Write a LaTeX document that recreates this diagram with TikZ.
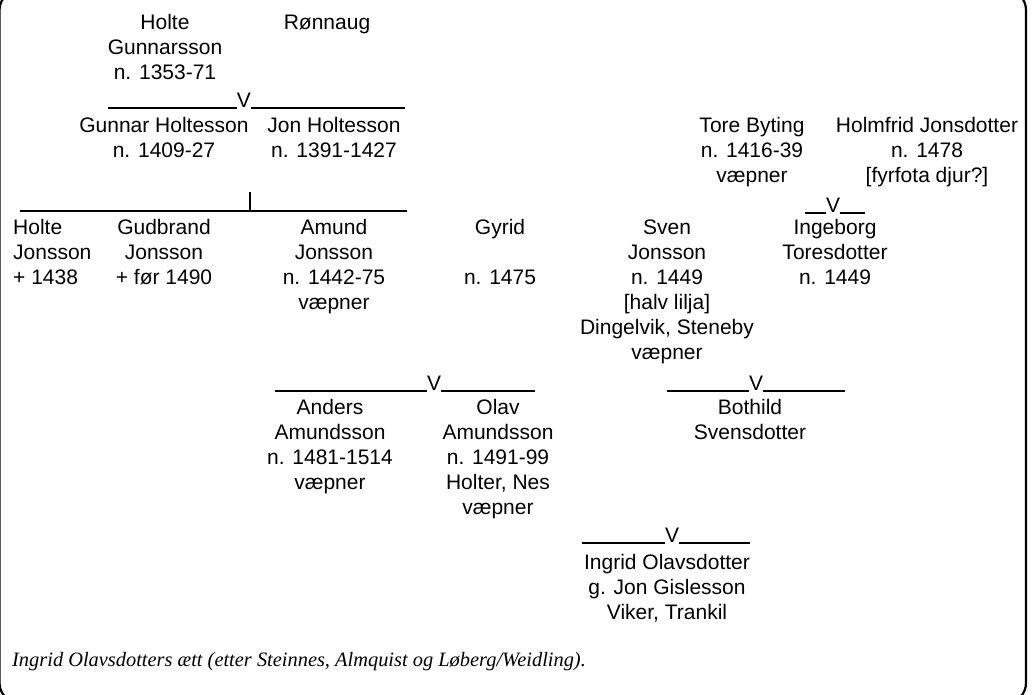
\documentclass[tikz,border=0pt]{standalone}
\usepackage{fontspec}
\setmainfont{Liberation Sans}
\newfontfamily\capfont{Liberation Serif}
\usepackage{tikz}
\usetikzlibrary{positioning}

\begin{document}
\begin{tikzpicture}[x=1pt,y=-1pt,
    person/.style={anchor=north, align=center, inner sep=0pt, font=\fontsize{21}{25}\selectfont},
    vmark/.style={anchor=south, inner sep=0pt, font=\fontsize{21}{25}\selectfont},
    tie/.style={line width=1.1pt}]
    \useasboundingbox (0,0) rectangle (1036,694);
    \draw[line width=2.2pt, rounded corners=20pt] (-0.5,-10) rectangle (1026,703);

    \node[person] (holteg) at (165,14.5) {Holte\\Gunnarsson\\n. 1353-71};
    \node[person] (ronnaug) at (327,14.5) {Rønnaug};
    \coordinate (a1) at (108,108);
    \coordinate (a2) at (405,108);
    \node[vmark] (v1) at (244,108) {V};
    \draw[tie] (a1) -- (v1.south west) (v1.south east) -- (a2);
    \node[person] (gunnar) at (164,117.5) {Gunnar Holtesson\\n. 1409-27};
    \node[person] (jon) at (334,117.5) {Jon Holtesson\\n. 1391-1427};

    \coordinate (b1) at (20,211);
    \coordinate (b2) at (407,211);
    \coordinate (b0) at (250,192);
    \draw[tie] (b1) -- (b2) (b0) -- (b0 |- b1);

    \node[person] (tore) at (752,117.5) {Tore Byting\\n. 1416-39\\væpner};
    \node[person] (holmfrid) at (927,117.5) {Holmfrid Jonsdotter\\n. 1478\\{[}fyrfota djur?{]}};
    \coordinate (c1) at (805,213);
    \coordinate (c2) at (865,213);
    \node[vmark] (v2) at (833,213) {V};
    \draw[tie] (c1) -- (v2.south west) (v2.south east) -- (c2);

    \node[person, anchor=north west, align=left] (holtej) at (13,219.5) {Holte\\Jonsson\\+ 1438};
    \node[person] (gudbrand) at (164,219.5) {Gudbrand\\Jonsson\\+ før 1490};
    \node[person] (amund) at (334,219.5) {Amund\\Jonsson\\n. 1442-75\\væpner};
    \node[person] (gyrid) at (500,219.5) {Gyrid\\[25pt]n. 1475};
    \node[person] (sven) at (667,219.5) {Sven\\Jonsson\\n. 1449\\{[}halv lilja{]}\\Dingelvik, Steneby\\væpner};
    \node[person] (ingeborg) at (835,219.5) {Ingeborg\\Toresdotter\\n. 1449};

    \coordinate (d1) at (275,391);
    \coordinate (d2) at (535,391);
    \node[vmark] (v3) at (434,391) {V};
    \draw[tie] (d1) -- (v3.south west) (v3.south east) -- (d2);
    \node[person] (anders) at (330,399.5) {Anders\\Amundsson\\n. 1481-1514\\væpner};
    \node[person] (olav) at (498,399.5) {Olav\\Amundsson\\n. 1491-99\\Holter, Nes\\væpner};

    \coordinate (e1) at (667,391);
    \coordinate (e2) at (845,391);
    \node[vmark] (v4) at (756,391) {V};
    \draw[tie] (e1) -- (v4.south west) (v4.south east) -- (e2);
    \node[person] (bothild) at (750,399.5) {Bothild\\Svensdotter};

    \coordinate (f1) at (582,543);
    \coordinate (f2) at (750,543);
    \node[vmark] (v5) at (672,543) {V};
    \draw[tie] (f1) -- (v5.south west) (v5.south east) -- (f2);
    \node[person] (ingrid) at (667,554.5) {Ingrid Olavsdotter\\g. Jon Gislesson\\Viker, Trankil};

    \node[anchor=base west, inner sep=0pt, font=\capfont\itshape\fontsize{20.4}{24}\selectfont] (caption) at (12,666) {Ingrid Olavsdotters ætt (etter Steinnes, Almquist og Løberg/Weidling).};
\end{tikzpicture}
\end{document}
